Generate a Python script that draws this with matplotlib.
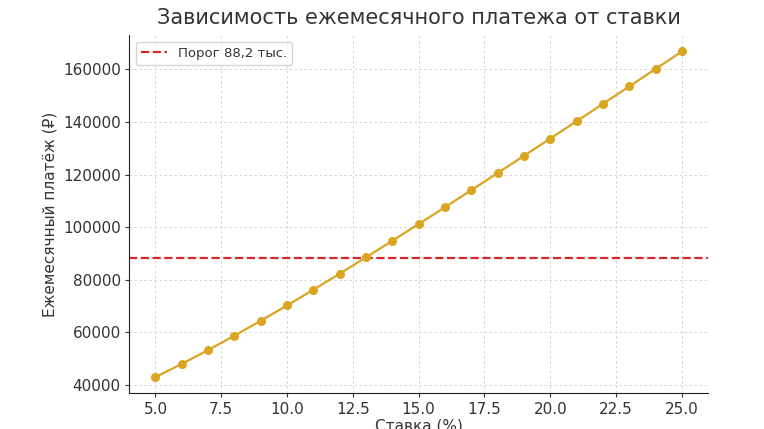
import matplotlib
matplotlib.use("Agg")
import matplotlib.pyplot as plt

rates = [5, 6, 7, 8, 9, 10, 11, 12, 13, 14, 15, 16, 17, 18, 19, 20, 21, 22, 23, 24, 25]
payments = [42946, 47964, 53224, 58701, 64370, 70206, 76186, 82289, 88496, 94790,
            101155, 107581, 114054, 120567, 127114, 133682, 140276, 146885, 153515,
            160160, 166812]
threshold = 88200
threshold_label = "Порог 88,2 тыс."
title = "Зависимость ежемесячного платежа от ставки"
xlabel = "Ставка (%)"
ylabel = "Ежемесячный платёж (₽)"

plt.rcParams['font.family'] = ['DejaVu Sans']
txt = '#333333'

fig = plt.figure(figsize=(7.64, 4.29), dpi=100)
ax = fig.add_axes([0.169, 0.083, 0.758, 0.835])

ax.plot(rates, payments, color='#DAA520', marker='o', markersize=5.5, linewidth=1.6, zorder=3)
ax.axhline(threshold, color='#d62728', linestyle='--', linewidth=1.6, label=threshold_label, zorder=2)

ax.set_title(title, fontsize=15, color=txt, pad=8)
ax.set_xlabel(xlabel, fontsize=11, color=txt, labelpad=1)
ax.set_ylabel(ylabel, fontsize=11, color=txt)
ax.tick_params(labelsize=11, colors=txt, length=3, pad=3)
ax.grid(True, linestyle=(0, (3, 3)), color='#cfcfcf', linewidth=0.6)
for s in ['top', 'right']:
    ax.spines[s].set_visible(False)
for s in ['left', 'bottom']:
    ax.spines[s].set_color('#222222')
ax.legend(loc='upper left', fontsize=9.5, labelcolor=txt)

fig.savefig('out.png', dpi=100)
